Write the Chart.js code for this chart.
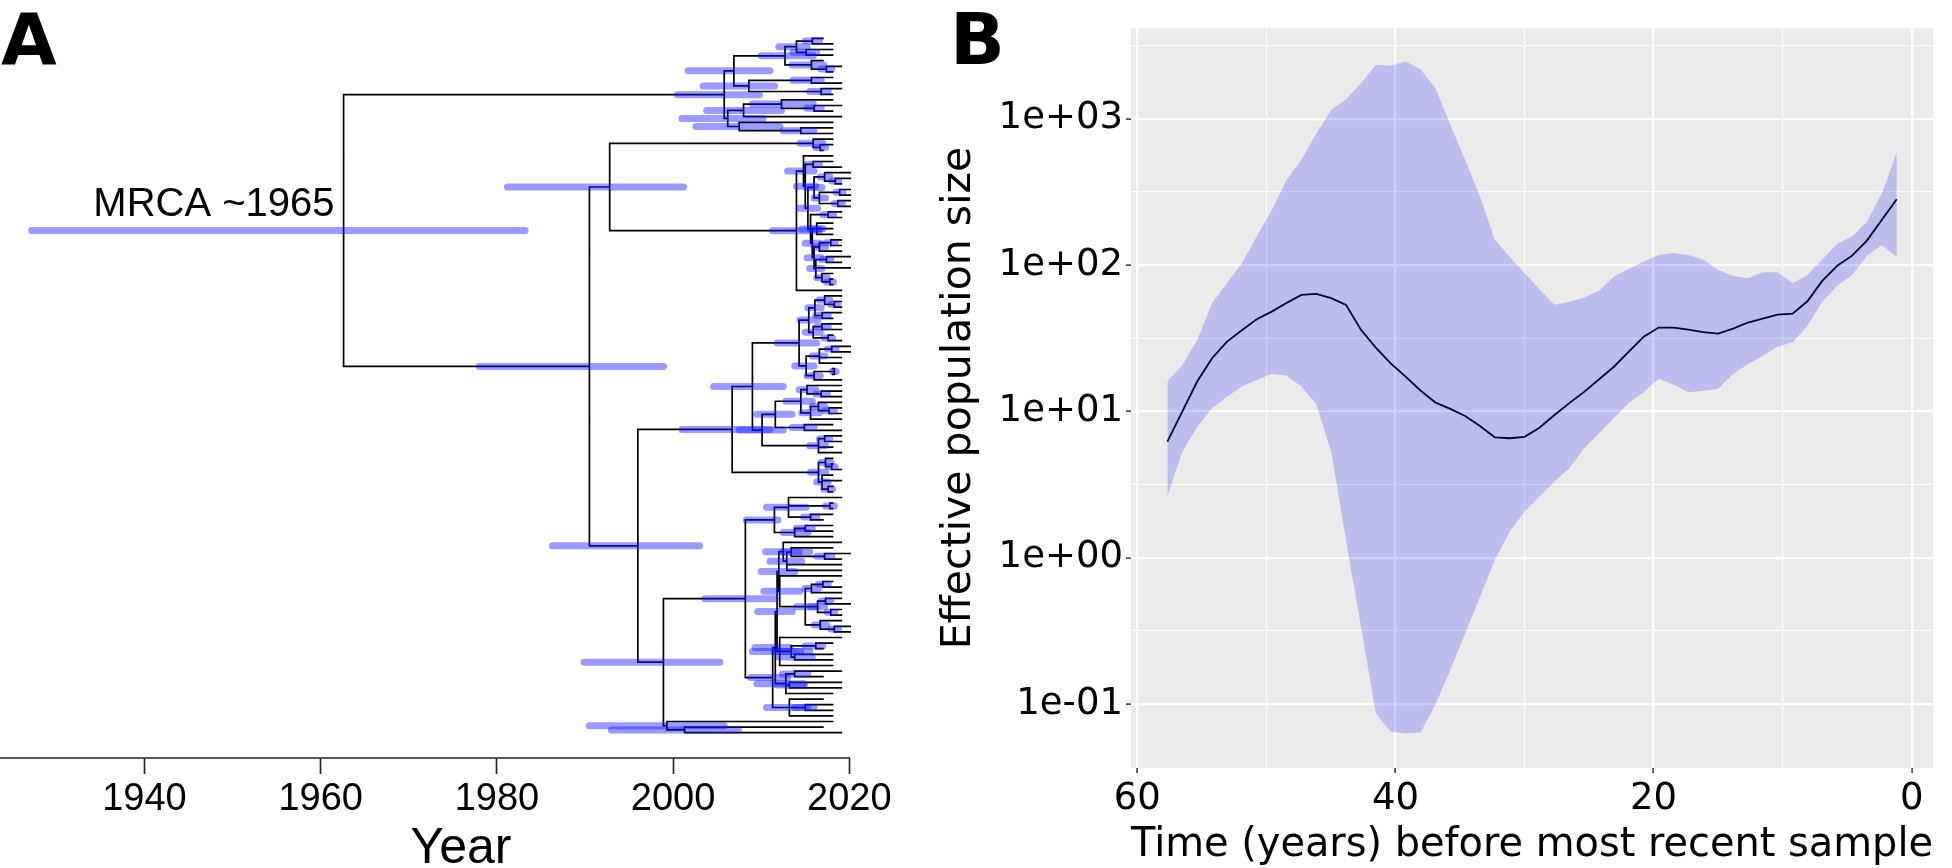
<!DOCTYPE html>
<html>
<head>
<meta charset="utf-8">
<title>Time-scaled phylogeny and skyline</title>
<script src="https://cdn.jsdelivr.net/npm/chart.js@4.4.1/dist/chart.umd.min.js"></script>
<style>
  html, body { margin: 0; padding: 0; background: #fff; overflow: hidden; }
  #tree { position: absolute; left: 0; top: 0; }
  #skyline { position: absolute; left: 930px; top: 0; }
</style>
</head>
<body>
<canvas id="tree" width="930" height="868"></canvas>
<canvas id="skyline" width="1022" height="868"></canvas>
<script>
// Panel B: skyline, years before most recent sample
var timeBefore = [1.16, 2.31, 3.47, 4.62, 5.77, 6.93, 8.08, 9.23, 10.39, 11.54, 12.69, 13.84, 15.00, 16.15, 17.30,
  18.46, 19.61, 20.76, 21.92, 23.07, 24.22, 25.38, 26.53, 27.68, 28.84, 29.99, 31.14, 32.30, 33.45, 34.60,
  35.75, 36.91, 38.06, 39.21, 40.37, 41.52, 42.67, 43.83, 44.98, 46.13, 47.29, 48.44, 49.59, 50.75, 51.90,
  53.05, 54.21, 55.36, 56.51, 57.67];
var neMedian = [282, 204, 147, 116, 98.9, 78.0, 56.6, 46.6, 45.9, 43.1, 40.5, 36.8, 34.0, 34.8, 36.2,
  37.4, 37.4, 32.4, 25.6, 20.2, 16.6, 13.6, 11.4, 9.46, 7.74, 6.70, 6.56, 6.65, 7.96, 9.31,
  10.4, 11.5, 13.9, 17.3, 21.3, 27.3, 36.1, 53.5, 59.4, 63.5, 62.5, 55.0, 48.1, 42.7, 35.9,
  30.0, 23.1, 16.0, 10.0, 6.22];
var neUpper = [587, 310, 198, 157, 140, 109, 85.7, 75.2, 89.3, 89.3, 81.3, 84.3, 92.7, 109, 117,
  121, 117, 106, 94.2, 83.4, 66.7, 60.0, 56.2, 53.5, 68.4, 88.1, 114, 149, 294, 524,
  908, 1620, 2180, 2460, 2310, 2330, 1750, 1360, 1150, 794, 524, 382, 238, 157, 103,
  75.2, 55.0, 30.8, 20.8, 16.0];
var neLower = [114, 137, 116, 85.7, 72.1, 56.2, 38.4, 29.7, 27.7, 24.0, 21.0, 18.0, 14.3, 13.8, 13.5,
  15.3, 16.7, 13.6, 11.4, 9.0, 7.10, 5.60, 4.09, 3.31, 2.62, 2.07, 1.51, 0.966, 0.542, 0.305,
  0.171, 0.0986, 0.0641, 0.0631, 0.0647, 0.0865, 0.338, 1.32, 5.31, 11.2, 14.8, 17.6, 18.0, 16.4, 14.8,
  12.6, 10.5, 7.87, 5.31, 2.62];
var timeTicks = [0, 10, 20, 30, 40, 50, 60];
var timeTickLabels = ['0', '', '20', '', '40', '', '60'];
var neTicks = [0.1, 0.31623, 1, 3.1623, 10, 31.623, 100, 316.23, 1000, 3162.3];
var neTickLabels = ['1e-01', '', '1e+00', '', '1e+01', '', '1e+02', '', '1e+03', ''];

// Panel A: tree. A node is [node year, HPD low, HPD high, [children]]; a bare number is a tip (sampling year)
var yearTicks = [1940, 1960, 1980, 2000, 2020];
var yearTickLabels = ['1940', '1960', '1980', '2000', '2020'];

var cladeT = [2005.8, 2000.5, 2009.8, [
  [2006.9, 2001.7, 2011.0, [
    [2012.7, 2010.0, 2015.9, [
      [2014.0, 2012.0, 2015.2, [
        [2015.8, 2015.0, 2016.6, [2017.0, 2018.1]],
        [2015.1, 2013.6, 2016.3, [2018.1, 2018.1]]
      ]],
      [2015.7, 2013.5, 2017.1, [2017.0, [2017.4, 2016.8, 2018.0, [2019.1, 2018.1]]]]
    ]],
    [2008.6, 2003.4, 2011.5, [
      [2015.7, 2013.6, 2016.8, [2018.1, 2019.1]],
      [2016.8, 2015.5, 2017.6, [2019.1, 2018.1]]
    ]]
  ]],
  [2006.2, 2001.0, 2010.2, [
    [2008.0, 2003.8, 2012.3, [
      [2012.3, 2009.0, 2015.9, [2018.1, [2016.0, 2015.2, 2016.8, [2019.1, 2018.1]]]],
      2019.1
    ]],
    [2007.5, 2002.6, 2012.1, [2018.1, [2014.5, 2012.5, 2016.0, [2018.1, 2018.1]]]]
  ]]
]];

var cladeCherry = [2015.9, 2014.4, 2017.0, [2018.1, [2016.7, 2016.2, 2017.3, [2018.1, 2017.0]]]];

var cladeC = [2014.0, 2011.3, 2016.6, [
  [2014.8, 2013.0, 2016.0, [
    2018.1,
    [2015.0, 2014.0, 2016.2, [
      [2015.9, 2015.2, 2016.6, [2018.1, 2019.1]],
      [2015.3, 2014.3, 2016.4, [
        [2016.0, 2015.2, 2016.9, [
          [2017.2, 2016.7, 2017.8, [2020.1, [2018.4, 2018.0, 2018.8, [2020.1, 2019.1]]]],
          [2016.6, 2016.0, 2017.3, [
            [2018.9, 2018.5, 2019.3, [2020.1, 2020.1]],
            [2018.7, 2018.3, 2019.2, [2020.1, 2020.1]]
          ]]
        ]],
        [2015.6, 2014.6, 2016.6, [
          [2017.6, 2017.0, 2018.2, [2019.1, 2019.1]],
          [2015.8, 2015.0, 2016.7, [
            [2016.3, 2015.6, 2017.0, [2018.1, 2018.1, 2018.1]],
            [2016.0, 2015.2, 2016.8, [
              [2016.6, 2016.0, 2017.3, [[2017.9, 2017.4, 2018.4, [2019.1, 2019.1]], 2019.1]],
              [2016.2, 2015.5, 2016.9, [
                [2017.4, 2016.9, 2017.9, [2020.1, 2019.1]],
                2020.1,
                [2016.9, 2016.3, 2017.5, [2018.1, [2017.8, 2017.4, 2018.2, [2018.1, 2018.1]]]]
              ]]
            ]]
          ]]
        ]]
      ]]
    ]]
  ]],
  2019.1
]];

var cladeD = [2006.7, 2001.0, 2011.0, [
  [2009.0, 2004.6, 2012.5, [
    [2014.3, 2011.8, 2016.3, [
      [2015.4, 2014.4, 2016.4, [
        [2016.1, 2015.3, 2016.8, [
          [2017.2, 2016.6, 2017.8, [2019.1, [2018.3, 2017.9, 2018.7, [2019.1, 2019.1]]]],
          [2016.9, 2016.2, 2017.6, [2019.1, 2018.1]]
        ]],
        [2015.9, 2015.0, 2016.7, [
          [2016.9, 2016.3, 2017.6, [2019.1, 2019.1]],
          [2017.6, 2017.1, 2018.1, [2018.1, 2019.1]]
        ]]
      ]],
      [2015.1, 2013.8, 2016.0, [
        [2016.6, 2015.8, 2017.2, [[2018.0, 2017.5, 2018.5, [2020.1, 2020.1]], 2019.1, 2019.1]],
        [2016.0, 2015.2, 2016.7, [[2018.3, 2018.1, 2018.5, [2018.1, 2018.1]], 2019.1]]
      ]]
    ]],
    [2010.1, 2007.5, 2012.5, [
      [2011.6, 2009.5, 2013.5, [
        [2014.5, 2012.8, 2015.8, [
          [2015.2, 2014.3, 2016.2, [2019.1, [2016.8, 2016.2, 2017.5, [2019.1, 2019.1]]]],
          [2015.6, 2014.6, 2016.6, [[2016.5, 2015.8, 2017.2, [2019.1, [2017.7, 2017.2, 2018.3, [2019.1, 2019.1]]]], 2019.1]]
        ]],
        [2014.9, 2013.5, 2016.0, [2018.1, 2019.1]]
      ]],
      [2016.5, 2015.5, 2017.3, [[2017.2, 2016.6, 2017.8, [2019.1, 2019.1]], 2018.1, 2019.1]]
    ]]
  ]],
  [2016.5, 2015.6, 2017.3, [
    [2017.3, 2016.8, 2017.9, [2018.1, [2018.0, 2017.6, 2018.4, [2018.1, 2019.1]]]],
    [2016.9, 2016.3, 2017.6, [2018.1, 2019.1, [2017.6, 2017.1, 2018.1, [2018.1, 2018.1]]]]
  ]]
]];

var cladeETop = [2011.5, 2008.3, 2011.9, [
  [2013.1, 2010.6, 2015.1, [2019.1, [2017.8, 2017.3, 2018.3, [2018.1, 2018.1]], [2015.6, 2014.8, 2016.3, [2018.1, 2017.0]]]],
  [2013.8, 2012.5, 2015.3, [[2015.0, 2014.0, 2015.8, [2018.1, 2018.1]], 2018.1]]
]];
var groupE1 = [2012.5, 2010.5, 2014.3, [2019.1, [2012.9, 2011.0, 2014.6, [[2013.4, 2012.4, 2015.5, [2018.1, [2017.2, 2016.3, 2018.0, [2020.1, 2019.1]]]], 2019.1, 2019.1]]]];
var groupE2 = [2012.1, 2010.3, 2014.4, [2019.1, [2015.0, 2014.0, 2016.2, [
  [2015.7, 2015.0, 2016.5, [[2017.0, 2016.5, 2017.6, [2018.1, 2019.1]], 2019.1]],
  [2016.4, 2015.6, 2017.2, [[2017.3, 2016.8, 2017.9, [2019.1, 2020.1]], [2017.9, 2017.5, 2018.3, [2019.1, 2019.1]]]],
  [2016.7, 2016.0, 2017.4, [2019.1, [2018.3, 2017.9, 2018.8, [2020.1, 2020.1]]]]
]]]];
var groupE3 = [2012.1, 2009.0, 2014.5, [2019.1, [2013.4, 2011.5, 2015.5, [[2016.2, 2015.0, 2017.0, [2018.1, 2017.0]], [2013.8, 2012.0, 2015.8, [2018.1, 2018.1]]]], 2018.1]];
var groupE4 = [2012.8, 2009.5, 2014.8, [[2013.8, 2012.4, 2015.3, [2019.1, 2017.0]], [2013.2, 2011.8, 2014.9, [2019.1, 2019.1]], 2018.1]];
var groupE5 = [2013.2, 2010.6, 2015.3, [2017.0, [2015.0, 2013.8, 2016.0, [2018.1, 2018.1]], 2018.1]];
var cladeEBottom = [2011.3, 2008.8, 2013.0, [
  [2011.6, 2009.3, 2013.3, [
    [2011.8, 2009.6, 2013.5, [[2012.0, 2010.0, 2013.8, [groupE1, groupE2]], groupE3]],
    groupE4
  ]],
  groupE5
]];
var cladeE = [2008.2, 2003.6, 2011.6, [cladeETop, cladeEBottom]];
var cladeF = [1999.3, 1990.5, 2005.8, [2018.1, [2001.3, 1993.0, 2007.4, [2017.0, 2019.1]]]];

var treeRoot = [1962.6, 1927.2, 1983.2, [
  cladeT,
  [1990.5, 1978.0, 1998.9, [
    [1992.8, 1981.2, 2001.2, [cladeCherry, cladeC]],
    [1996.0, 1986.3, 2003.0, [cladeD, [1998.9, 1989.9, 2005.3, [cladeE, cladeF]]]]
  ]]
]];

(function () {
  Chart.defaults.font.family = '"DejaVu Sans"';
  Chart.defaults.color = '#000';

  // ---- panel A ----
  var tipIndex = 0;
  var trazos = { branches: [], bars: [] };

  function layoutNode_(node, parentYear) {
    if (typeof node === 'number') {
      var yTip = tipIndex++;
      trazos.branches.push({ x: parentYear, y: yTip }, { x: node, y: yTip }, { x: node, y: null });
      return yTip;
    }
    var year = node[0];
    var ys = node[3].map(function (child) { return layoutNode_(child, year); });
    var y = (ys[0] + ys[ys.length - 1]) / 2;
    trazos.branches.push({ x: year, y: ys[0] }, { x: year, y: ys[ys.length - 1] }, { x: year, y: null });
    if (parentYear !== null) {
      trazos.branches.push({ x: parentYear, y: y }, { x: year, y: y }, { x: year, y: null });
    }
    trazos.bars.push({ x: node[1], y: y }, { x: node[2], y: y }, { x: node[2], y: null });
    return y;
  }

  var rootY = layoutNode_(treeRoot, null);

  var decorArbol = {
    id: 'treeDecor',
    afterDraw: function (chart) {
      var ctx = chart.ctx, sx = chart.scales.x, sy = chart.scales.y, area = chart.chartArea;
      ctx.save();
      ctx.strokeStyle = '#222';
      ctx.lineWidth = 1.6;
      ctx.beginPath();
      ctx.moveTo(area.left, area.bottom);
      ctx.lineTo(sx.getPixelForValue(yearTicks[yearTicks.length - 1]) + 0.8, area.bottom);
      ctx.stroke();
      ctx.fillStyle = '#000';
      ctx.textBaseline = 'alphabetic';
      ctx.font = '40px "Liberation Sans"';
      ctx.textAlign = 'right';
      ctx.fillText('MRCA ~1965', sx.getPixelForValue(treeRoot[0]) - 9, sy.getPixelForValue(rootY) - 15);
      ctx.font = 'bold 72px "DejaVu Sans"';
      ctx.textAlign = 'left';
      ctx.fillText('A', 1, 64);
      ctx.restore();
    }
  };

  new Chart(document.getElementById('tree'), {
    type: 'line',
    data: {
      datasets: [{
        data: trazos.bars,
        borderColor: 'rgba(20,20,255,0.43)',
        borderWidth: 7,
        borderCapStyle: 'round',
        pointRadius: 0,
        spanGaps: false,
        segment: { borderWidth: function () { return 7; } }
      }, {
        data: trazos.branches,
        borderColor: '#000',
        borderWidth: 1.7,
        borderCapStyle: 'square',
        pointRadius: 0,
        spanGaps: false
      }]
    },
    options: {
      responsive: false,
      animation: false,
      devicePixelRatio: 1,
      layout: { padding: { top: 30, right: 8, left: 0, bottom: 0 } },
      plugins: { legend: { display: false }, tooltip: { enabled: false } },
      scales: {
        x: {
          type: 'linear',
          min: 1923.6,
          max: 2028.25,
          afterFit: function (scale) { scale.height = 110; },
          afterBuildTicks: function (scale) {
            scale.ticks = yearTicks.map(function (v) { return { value: v }; });
          },
          grid: { drawOnChartArea: false, tickLength: 16, tickColor: '#222', tickWidth: 1.6 },
          border: { display: false },
          ticks: {
            autoSkip: false,
            maxRotation: 0,
            padding: 3,
            color: '#000',
            font: { family: '"Liberation Sans"', size: 38 },
            callback: function (value, index) { return yearTickLabels[index]; }
          },
          title: {
            display: true,
            text: 'Year',
            color: '#000',
            font: { family: '"Liberation Sans"', size: 50, lineHeight: 0.74 },
            padding: 0
          }
        },
        y: { type: 'linear', reverse: true, min: -1.48, max: 128.52, display: false }
      }
    },
    plugins: [decorArbol]
  });

  // ---- panel B ----
  function puntos_(valores) {
    return timeBefore.map(function (t, i) { return { x: t, y: valores[i] }; });
  }

  function esMayorTiempo_(v) { return v % 20 === 0; }
  function esMayorNe_(v) {
    var l = Math.log10(v);
    return Math.abs(l - Math.round(l)) < 1e-3;
  }

  var fondoPanel = {
    id: 'panelBackground',
    beforeDraw: function (chart) {
      var a = chart.chartArea, ctx = chart.ctx;
      ctx.save();
      ctx.fillStyle = '#EBEBEB';
      ctx.fillRect(a.left, a.top, a.right - a.left, a.bottom - a.top);
      ctx.restore();
    },
    afterDraw: function (chart) {
      var ctx = chart.ctx;
      ctx.save();
      ctx.fillStyle = '#000';
      ctx.font = 'bold 72px "DejaVu Sans"';
      ctx.textBaseline = 'alphabetic';
      ctx.fillText('B', 20, 64);
      ctx.restore();
    }
  };

  new Chart(document.getElementById('skyline'), {
    type: 'line',
    data: {
      datasets: [{
        data: puntos_(neMedian),
        borderColor: '#000033',
        borderWidth: 1.8,
        pointRadius: 0,
        tension: 0
      }, {
        data: puntos_(neUpper),
        borderWidth: 0,
        borderColor: 'rgba(0,0,0,0)',
        backgroundColor: 'rgba(0,0,255,0.2)',
        pointRadius: 0,
        fill: '+1'
      }, {
        data: puntos_(neLower),
        borderWidth: 0,
        borderColor: 'rgba(0,0,0,0)',
        pointRadius: 0,
        fill: false
      }]
    },
    options: {
      responsive: false,
      animation: false,
      devicePixelRatio: 1,
      layout: { padding: { top: 28, right: 19, left: 0, bottom: 0 } },
      plugins: { legend: { display: false }, tooltip: { enabled: false } },
      scales: {
        x: {
          type: 'linear',
          reverse: true,
          min: -1.65,
          max: 60.49,
          afterFit: function (scale) { scale.height = 100; },
          afterBuildTicks: function (scale) {
            scale.ticks = timeTicks.map(function (v) { return { value: v }; });
          },
          grid: {
            color: '#fff',
            lineWidth: function (c) { return esMayorTiempo_(c.tick.value) ? 2.2 : 1.1; },
            tickLength: 5,
            tickWidth: 1.5,
            tickColor: function (c) { return esMayorTiempo_(c.tick.value) ? '#333' : 'rgba(0,0,0,0)'; }
          },
          border: { display: false },
          ticks: {
            autoSkip: false,
            maxRotation: 0,
            padding: 4,
            color: '#000',
            font: { size: 37 },
            callback: function (value, index) { return timeTickLabels[index]; }
          },
          title: {
            display: true,
            text: 'Time (years) before most recent sample',
            color: '#000',
            font: { size: 41, lineHeight: 1 },
            padding: { top: 0, bottom: 1.8 }
          }
        },
        y: {
          type: 'logarithmic',
          min: 0.0366,
          max: 4169,
          afterFit: function (scale) { scale.width = 201; },
          afterBuildTicks: function (scale) {
            scale.ticks = neTicks.map(function (v) { return { value: v }; });
          },
          grid: {
            color: '#fff',
            lineWidth: function (c) { return esMayorNe_(c.tick.value) ? 2.2 : 1.1; },
            tickLength: 5,
            tickWidth: 1.5,
            tickColor: function (c) { return esMayorNe_(c.tick.value) ? '#333' : 'rgba(0,0,0,0)'; }
          },
          border: { display: false },
          ticks: {
            autoSkip: false,
            padding: 3,
            color: '#000',
            font: { size: 37 },
            callback: function (value, index) { return neTickLabels[index]; }
          },
          title: {
            display: true,
            text: 'Effective population size',
            color: '#000',
            font: { size: 41, lineHeight: 1 },
            padding: { top: 9, bottom: 0 }
          }
        }
      }
    },
    plugins: [fondoPanel]
  });
})();
</script>
</body>
</html>
